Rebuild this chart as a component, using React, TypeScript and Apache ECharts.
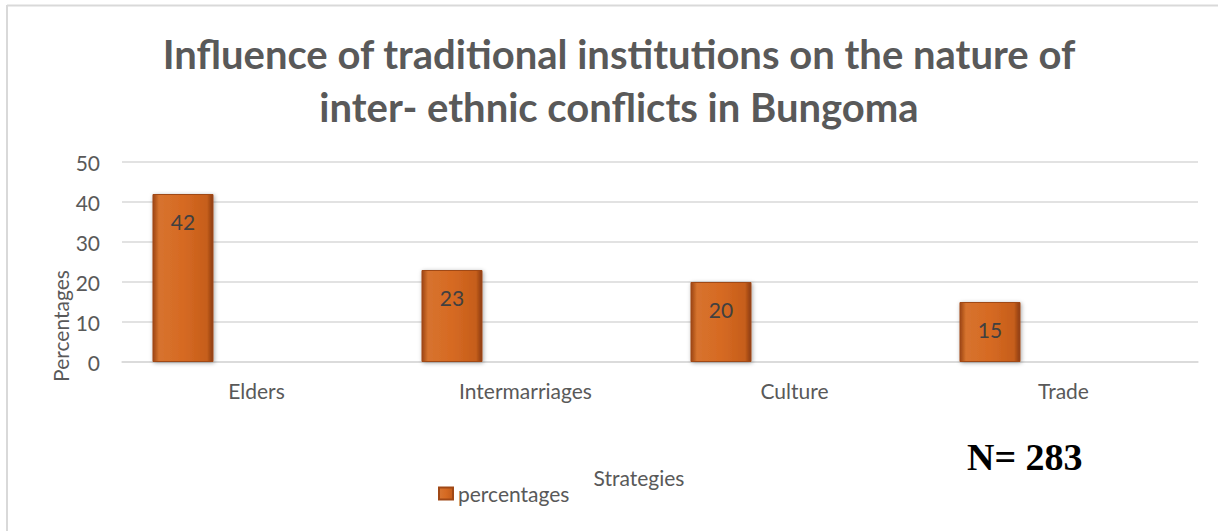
import React, { useEffect, useRef } from "react";
import * as echarts from "echarts";

const categories = ["Elders", "Intermarriages", "Culture", "Trade"];
const percentages = [42, 23, 20, 15];
const emptySeries = [null, null, null, null];
const yTicks = { min: 0, max: 50, interval: 10 };
const titleLines = ["Influence of traditional institutions on the nature of", "inter- ethnic conflicts in Bungoma"];

export default function App() {
  const ref = useRef<HTMLDivElement>(null);
  useEffect(() => {
    if (!ref.current) return;
    const chart = echarts.init(ref.current, undefined, { renderer: "svg" });
    const grey = "#595959";
    const font = "Lato";
    const fs = 21;
    const barColor = new echarts.graphic.LinearGradient(0, 0, 1, 0, [
      { offset: 0, color: "#9C4513" },
      { offset: 0.1, color: "#D7732F" },
      { offset: 0.5, color: "#D66A22" },
      { offset: 0.9, color: "#C65E1C" },
      { offset: 1, color: "#8A3C10" },
    ]);
    chart.setOption({
      animation: false,
      backgroundColor: "#ffffff",
      title: {
        text: titleLines.join("\n"),
        left: 614,
        top: 22,
        textAlign: "center",
        textStyle: {
          fontFamily: font,
          fontWeight: "bold",
          fontSize: 40,
          color: grey,
          lineHeight: 53,
        },
      },
      grid: { left: 122, right: 20, top: 162, bottom: 169 },
      legend: {
        data: ["percentages"],
        left: 433,
        top: 478,
        icon: "rect",
        itemWidth: 14,
        itemHeight: 12,
        itemGap: 4,
        textStyle: { fontFamily: font, fontSize: fs, color: grey },
      },
      xAxis: {
        type: "category",
        data: categories,
        axisLine: { show: true, lineStyle: { color: "#D9D9D9", width: 1.5 } },
        axisTick: { show: false },
        axisLabel: { margin: 18, fontFamily: font, fontSize: fs, color: grey },
      },
      yAxis: {
        type: "value",
        min: yTicks.min,
        max: yTicks.max,
        interval: yTicks.interval,
        axisLine: { show: false },
        axisTick: { show: false },
        splitLine: { lineStyle: { color: "#D9D9D9", width: 1.5 } },
        axisLabel: { margin: 22, fontFamily: font, fontSize: fs, color: grey },
      },
      series: [
        {
          name: "percentages",
          type: "bar",
          data: percentages,
          barWidth: 61,
          barGap: "141%",
          itemStyle: {
            color: barColor,
            borderColor: "#A04816",
            borderWidth: 1,
            shadowColor: "rgba(0,0,0,0.35)",
            shadowBlur: 4,
            shadowOffsetX: 1,
            shadowOffsetY: 1,
          },
          label: {
            show: true,
            position: "insideTop",
            distance: 17,
            fontFamily: font,
            fontSize: fs,
            color: "#404040",
          },
        },
        {
          name: "empty",
          type: "bar",
          data: emptySeries,
          barWidth: 61,
        },
      ],
      graphic: [
        { type: "line", shape: { x1: 7, y1: 5.5, x2: 1218, y2: 5.5 }, style: { stroke: "#D9D9D9", lineWidth: 2 } },
        { type: "line", shape: { x1: 7, y1: 5, x2: 7, y2: 531 }, style: { stroke: "#D9D9D9", lineWidth: 2 } },
        {
          type: "text",
          x: 60,
          y: 326,
          rotation: Math.PI / 2,
          style: {
            text: "Percentages",
            fontFamily: font,
            fontSize: fs,
            fill: grey,
            align: "center",
            verticalAlign: "middle",
          },
        },
        {
          type: "text",
          x: 639,
          y: 477,
          style: {
            text: "Strategies",
            fontFamily: font,
            fontSize: fs,
            fill: grey,
            align: "center",
            verticalAlign: "middle",
          },
        },
        {
          type: "text",
          x: 967,
          y: 457,
          style: {
            text: "N= 283",
            fontFamily: "Liberation Serif",
            fontWeight: "bold",
            fontSize: 38,
            fill: "#000000",
            align: "left",
            verticalAlign: "middle",
          },
        },
      ],
    });
    return () => chart.dispose();
  }, []);
  return <div ref={ref} style={{ position: "fixed", left: 0, top: 0, width: 1218, height: 531 }} />;
}
